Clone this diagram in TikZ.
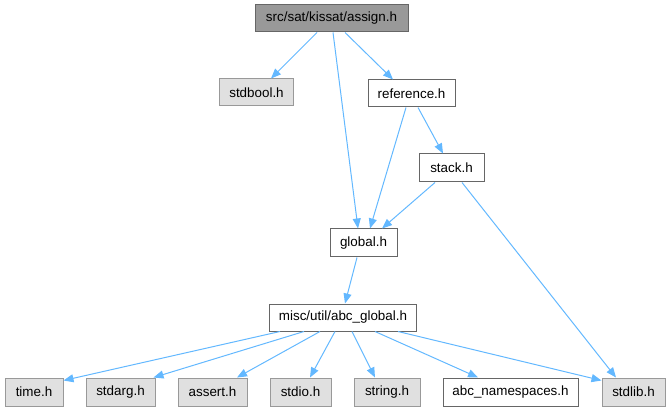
\documentclass[tikz,border=0pt]{standalone}
\usepackage{fontspec}
\setmainfont{Liberation Sans}
\usetikzlibrary{arrows.meta}
\definecolor{edgeblue}{HTML}{63B8FF}
\definecolor{darkborder}{HTML}{666666}
\definecolor{grayfill}{HTML}{E0E0E0}
\definecolor{grayborder}{HTML}{999999}
\definecolor{mainfill}{HTML}{999999}
\tikzset{
  box/.style={draw=darkborder, fill=white, line width=1pt, inner sep=0pt, minimum height=27pt, font=\fontsize{13.4}{16}\selectfont},
  sysbox/.style={box, draw=grayborder, fill=grayfill},
  mainbox/.style={box, draw=darkborder, fill=mainfill},
  dep/.style={draw=edgeblue, line width=1pt, -{Triangle[length=10pt,width=8pt]}},
}
\begin{document}
\begin{tikzpicture}[x=1pt,y=-1pt]
\useasboundingbox (0,0) rectangle (671,411);
\node[mainbox, minimum width=153pt] (assign) at (331.5,18.5) {src/sat/kissat/assign.h};
\node[sysbox, minimum width=74pt] (stdbool) at (256.5,92.5) {stdbool.h};
\node[box, minimum width=87pt] (reference) at (411.5,93.5) {reference.h};
\node[box, minimum width=65pt, minimum height=28pt] (stack) at (451.5,168) {stack.h};
\node[box, minimum width=67pt, minimum height=28pt] (global) at (363.5,243) {global.h};
\node[box, minimum width=147pt] (abcg) at (343,317.5) {misc/util/abc\_global.h};
\node[sysbox, minimum width=58pt, minimum height=28pt] (time) at (34,392) {time.h};
\node[sysbox, minimum width=69pt, minimum height=28pt] (stdarg) at (120.5,392) {stdarg.h};
\node[sysbox, minimum width=69pt, minimum height=28pt] (assert) at (212.5,392) {assert.h};
\node[sysbox, minimum width=61pt, minimum height=28pt] (stdio) at (300.5,392) {stdio.h};
\node[sysbox, minimum width=66pt, minimum height=28pt] (string) at (387,392) {string.h};
\node[box, minimum width=135pt, minimum height=28pt] (abcns) at (510.5,392) {abc\_namespaces.h};
\node[sysbox, minimum width=63pt, minimum height=28pt] (stdlib) at (633.5,392) {stdlib.h};

\draw[dep] ([xshift=-14.5pt]assign.south) -- ([xshift=14.5pt]stdbool.north);
\draw[dep] ([xshift=1.5pt]assign.south) -- ([xshift=-5.5pt]global.north);
\draw[dep] ([xshift=13.5pt]assign.south) -- ([xshift=-18.5pt]reference.north);
\draw[dep] ([xshift=-5.5pt]reference.south) -- ([xshift=6.5pt]global.north);
\draw[dep] ([xshift=6.5pt]reference.south) -- ([xshift=-8.5pt]stack.north);
\draw[dep] ([xshift=-16.5pt]stack.south) -- ([xshift=18.5pt]global.north);
\draw[dep] ([xshift=10.5pt]stack.south) -- ([xshift=-17.5pt]stdlib.north);
\draw[dep] ([xshift=-6.5pt]global.south) -- ([xshift=2pt]abcg.north);
\draw[dep] ([xshift=-63pt]abcg.south) -- ([yshift=-3pt]time.north east);
\draw[dep] ([xshift=-39pt]abcg.south) -- ([xshift=-2pt]stdarg.north east);
\draw[dep] ([xshift=-23pt]abcg.south) -- ([xshift=24.5pt]assert.north);
\draw[dep] ([xshift=-8pt]abcg.south) -- ([xshift=9.5pt]stdio.north);
\draw[dep] ([xshift=9pt]abcg.south) -- ([xshift=-12pt]string.north);
\draw[dep] ([xshift=32pt]abcg.south) -- ([xshift=-32.5pt]abcns.north);
\draw[dep] ([xshift=55pt]abcg.south) -- ([yshift=-3pt]stdlib.north west);
\end{tikzpicture}
\end{document}
